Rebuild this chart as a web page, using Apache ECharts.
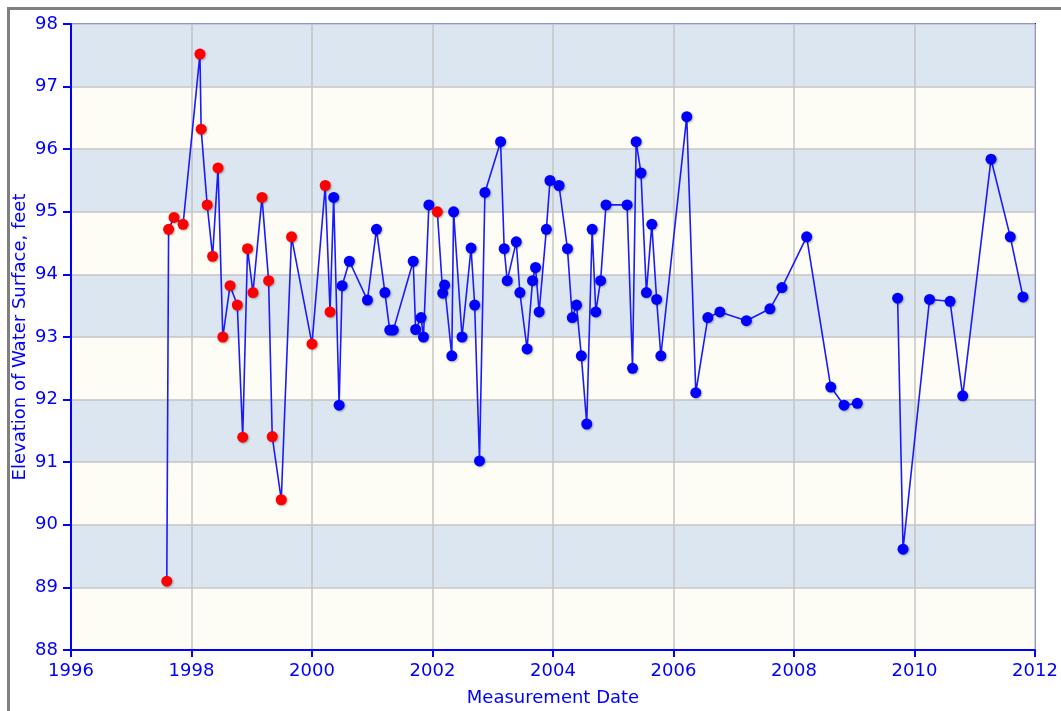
<!DOCTYPE HTML>
<html>
<head>
<meta charset="utf-8">
<title>Elevation of Water Surface</title>
<style>
    html, body { margin: 0; padding: 0; background: #fff; }
    #well-chart { width: 1061px; height: 711px; }
</style>
</head>
<body>
<div id="well-chart"></div>

<script type="text/javascript" src="https://cdn.jsdelivr.net/npm/echarts@6/dist/echarts.min.js"></script>
<script type="text/javascript">
// measurement dates as decimal years, null = gap in the record
var dates = [
    1997.59, 1997.62, 1997.71, 1997.86, 1998.14, 1998.16, 1998.26, 1998.35, 1998.44, 1998.52,
    1998.64, 1998.76, 1998.85, 1998.93, 1999.02, 1999.17, 1999.28, 1999.34, 1999.49, 1999.66,
    2000.00, 2000.22, 2000.30, 2000.36, 2000.45, 2000.50, 2000.62, 2000.92, 2001.07, 2001.21,
    2001.29, 2001.35, 2001.68, 2001.72, 2001.81, 2001.85, 2001.94, 2002.08, 2002.17, 2002.20,
    2002.32, 2002.35, 2002.49, 2002.64, 2002.70, 2002.78, 2002.87, 2003.13, 2003.19, 2003.24,
    2003.39, 2003.45, 2003.57, 2003.66, 2003.71, 2003.77, 2003.89, 2003.95, 2004.10, 2004.24,
    2004.32, 2004.39, 2004.47, 2004.56, 2004.65, 2004.71, 2004.79, 2004.88, 2005.23, 2005.32,
    2005.38, 2005.46, 2005.55, 2005.64, 2005.72, 2005.79, 2006.22, 2006.37, 2006.57, 2006.77,
    2007.21, 2007.60, 2007.80, 2008.21, 2008.61, 2008.83, 2009.05, null, 2009.72, 2009.81,
    2010.25, 2010.59, 2010.80, 2011.27, 2011.59, 2011.80
]
// elevation of water surface, feet
var levels = [
    89.10, 94.72, 94.91, 94.80, 97.52, 96.32, 95.11, 94.29, 95.70, 93.00,
    93.82, 93.51, 91.40, 94.41, 93.71, 95.23, 93.90, 91.41, 90.40, 94.60,
    92.89, 95.42, 93.40, 95.23, 91.91, 93.82, 94.21, 93.59, 94.72, 93.71,
    93.11, 93.11, 94.21, 93.12, 93.31, 93.00, 95.11, 95.00, 93.70, 93.83,
    92.70, 95.00, 93.00, 94.42, 93.51, 91.02, 95.31, 96.12, 94.41, 93.90,
    94.52, 93.71, 92.81, 93.90, 94.11, 93.40, 94.72, 95.50, 95.42, 94.41,
    93.31, 93.51, 92.70, 91.61, 94.72, 93.40, 93.90, 95.11, 95.11, 92.50,
    96.12, 95.62, 93.71, 94.80, 93.60, 92.70, 96.52, 92.11, 93.31, 93.40,
    93.26, 93.45, 93.79, 94.60, 92.20, 91.91, 91.94, null, 93.62, 89.61,
    93.60, 93.57, 92.06, 95.84, 94.60, 93.64
]
// 1 = flagged measurement (red marker)
var flagged = [
    1, 1, 1, 1, 1, 1, 1, 1, 1, 1,
    1, 1, 1, 1, 1, 1, 1, 1, 1, 1,
    1, 1, 1, 0, 0, 0, 0, 0, 0, 0,
    0, 0, 0, 0, 0, 0, 0, 1, 0, 0,
    0, 0, 0, 0, 0, 0, 0, 0, 0, 0,
    0, 0, 0, 0, 0, 0, 0, 0, 0, 0,
    0, 0, 0, 0, 0, 0, 0, 0, 0, 0,
    0, 0, 0, 0, 0, 0, 0, 0, 0, 0,
    0, 0, 0, 0, 0, 0, 0, 0, 0, 0,
    0, 0, 0, 0, 0, 0
]
var xTicks = [1996, 2012, 2]
var yTicks = [88, 98, 1]

var blue = '#0000ff'
var font = 'DejaVu Sans, Verdana, sans-serif'

var seriesData = dates.map(function(d, i){
    if(d === null) return ['-', '-']
    return {
        value: [d, levels[i]],
        itemStyle: { color: flagged[i] ? '#ff0000' : blue }
    }
})

var chart = echarts.init(document.getElementById('well-chart'))
var option = {
    animation: false,
    backgroundColor: '#fff',
    graphic: [
        { type: 'rect', shape: { x: 7, y: 7, width: 1054, height: 3 }, style: { fill: '#808080' } },
        { type: 'rect', shape: { x: 7, y: 7, width: 3, height: 704 }, style: { fill: '#808080' } }
    ],
    grid: {
        left: 71, top: 24, right: 26, bottom: 61,
        containLabel: false,
        outerBoundsMode: 'none',
        show: true,
        borderColor: blue,
        borderWidth: 2,
        backgroundColor: 'transparent'
    },
    xAxis: {
        type: 'value',
        min: xTicks[0], max: xTicks[1], interval: xTicks[2],
        name: 'Measurement Date',
        nameLocation: 'middle',
        nameGap: 39,
        nameMoveOverlap: false,
        nameTextStyle: { color: blue, fontSize: 18, fontFamily: font },
        axisLine: { lineStyle: { color: blue, width: 2 } },
        axisTick: { length: 7, lineStyle: { color: blue, width: 2 } },
        axisLabel: {
            color: blue, fontSize: 18, fontFamily: font, margin: 12,
            formatter: function(v){ return String(v) }
        },
        splitLine: { show: true, lineStyle: { color: '#c4c4c4', width: 1.5 } }
    },
    yAxis: {
        type: 'value',
        min: yTicks[0], max: yTicks[1], interval: yTicks[2],
        name: 'Elevation of Water Surface, feet',
        nameLocation: 'middle',
        nameGap: 42,
        nameMoveOverlap: false,
        nameTextStyle: { color: blue, fontSize: 18, fontFamily: font },
        axisLine: { show: true, lineStyle: { color: blue, width: 2 } },
        axisTick: { show: true, length: 8, lineStyle: { color: blue, width: 2 } },
        axisLabel: { color: blue, fontSize: 18, fontFamily: font, margin: 13 },
        splitLine: { show: true, lineStyle: { color: '#c4c4c4', width: 1.5 } },
        splitArea: { show: true, areaStyle: { color: ['#fdfdf5', '#dce6f1'] } }
    },
    series: [{
        type: 'line',
        data: seriesData,
        connectNulls: false,
        symbol: 'circle',
        symbolSize: 11,
        lineStyle: { color: '#1a1aff', width: 1.6 },
        itemStyle: {
            shadowColor: 'rgba(0,0,0,0.3)',
            shadowBlur: 2,
            shadowOffsetX: 1,
            shadowOffsetY: 1
        }
    }]
}
chart.setOption(option)
</script>
</body>
</html>
